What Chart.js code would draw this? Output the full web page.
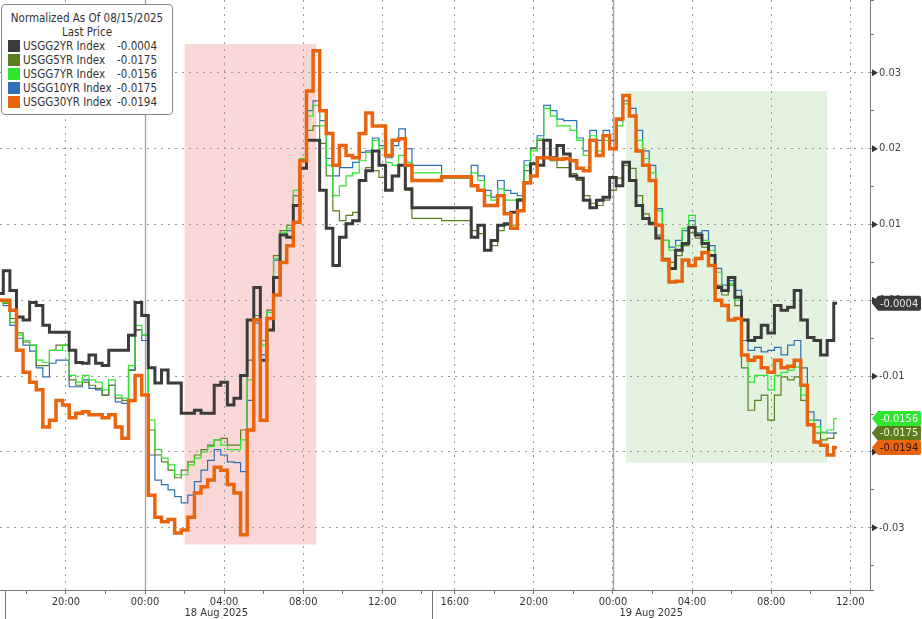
<!DOCTYPE html>
<html>
<head>
<meta charset="utf-8">
<script src="https://cdn.jsdelivr.net/npm/chart.js@4.4.1/dist/chart.umd.min.js"></script>
<style>
html, body { margin: 0; padding: 0; background: #fff; }
#wrap { position: relative; width: 922px; height: 619px; }
#legendBox {
  position: absolute; left: 1px; top: 4px; width: 170px;
  padding: 6px 0 5px 0; background: #fff; border: 1px solid #8a8a8a; border-radius: 4px;
  font-family: "DejaVu Sans Condensed", "DejaVu Sans", sans-serif; font-stretch: condensed;
  font-size: 11.5px; color: #333; line-height: 14px;
}
#legendBox .ttl { text-align: center; }
#legendBox .row { position: relative; height: 14px; }
#legendBox .sw { position: absolute; left: 6px; top: 1px; width: 12px; height: 12px; }
#legendBox .nm { position: absolute; left: 21px; top: 0; }
#legendBox .vl { position: absolute; right: 15px; top: 0; }
</style>
</head>
<body>
<div id="wrap">
  <canvas id="yieldChart" width="922" height="619"></canvas>
  <div id="legendBox"></div>
</div>
<script>
// categories: 20 minute steps, two sessions with the session break in between
function sessionLabels(startH, startM, count) {
    let out = []
    let m = startH * 60 + startM
    for (let i = 0; i < count; i++) {
        let t = (m + i * 20) % 1440
        out.push(String(Math.floor(t / 60)).padStart(2, '0') + ':' + String(t % 60).padStart(2, '0'))
    }
    return out
}
const timeLabels = sessionLabels(16, 40, 66).concat(sessionLabels(15, 0, 67))
const sessionDates = ['18 Aug 2025', '19 Aug 2025']
const xTickLabels = ['00:00', '04:00', '08:00', '12:00', '16:00', '20:00']
const xMinorTicks = ['02:00', '06:00', '10:00', '14:00', '18:00', '22:00']

const seriesNames = ['USGG2YR Index', 'USGG5YR Index', 'USGG7YR Index', 'USGG10YR Index', 'USGG30YR Index']
const seriesColors = ['#3b3b3b', '#5a7d1e', '#2ee62e', '#2f6fb3', '#e8650e']
const lastValues = [-0.0004, -0.0175, -0.0156, -0.0175, -0.0194]

const usgg2yr = [
 0.0009, 0.0039, 0.0013, -0.0022, -0.0026, -0.0003, -0.0007, -0.0033, -0.0042, -0.0042,
 -0.0042, -0.0066, -0.0082, -0.0083, -0.0072, -0.0083, -0.0086, -0.0066, -0.0066, -0.0066,
 -0.0046, -0.0003, -0.0020, -0.0089, -0.0109, -0.0092, -0.0109, -0.0109, -0.0149, -0.0149,
 -0.0145, -0.0149, -0.0149, -0.0112, -0.0108, -0.0138, -0.0129, -0.0099, -0.0026, 0.0017,
 -0.0079, -0.0039, 0.0030, 0.0086, 0.0083, 0.0125, 0.0174, 0.0211, 0.0211, 0.0145,
 0.0095, 0.0046, 0.0083, 0.0101, 0.0105, 0.0158, 0.0171, 0.0197, 0.0178, 0.0145,
 0.0164, 0.0178, 0.0147, 0.0122,
 null, null, null, null, null, null, null,
 0.0122, 0.0083, 0.0099, 0.0066, 0.0079, 0.0099, 0.0101, 0.0116, 0.0132, 0.0155,
 0.0180, 0.0178, 0.0211, 0.0188, 0.0204, 0.0193, 0.0164, 0.0161, 0.0132, 0.0122,
 0.0132, 0.0136, 0.0162, 0.0151, 0.0182, 0.0158, 0.0125, 0.0108, 0.0101, 0.0082,
 0.0054, 0.0042, 0.0066, 0.0075, 0.0096, 0.0086, 0.0075, 0.0059, 0.0017, 0.0013,
 0.0030, 0.0004, -0.0026, -0.0053, -0.0049, -0.0033, -0.0043, -0.0007, -0.0013, -0.0009,
 0.0013, -0.0026, -0.0049, -0.0053, -0.0072, -0.0053, -0.0004,
 null, null, null, null, null
]
const usgg5yr = [
 0, -0.0004, -0.0024, -0.0043, -0.0055, -0.0059, -0.0086, -0.0086, -0.0066, -0.0059,
 -0.0059, -0.0105, -0.0112, -0.0108, -0.0112, -0.0116, -0.0125, -0.0112, -0.0129, -0.0132,
 -0.0092, -0.0039, -0.0046, -0.0171, -0.0204, -0.0213, -0.0224, -0.0234, -0.0224, -0.0213,
 -0.0204, -0.0197, -0.0191, -0.0184, -0.0182, -0.0191, -0.0191, -0.0171, -0.0079, -0.0020,
 -0.0053, -0.0013, 0.0059, 0.0092, 0.0099, 0.0138, 0.0184, 0.0224, 0.0230, 0.0207,
 0.0164, 0.0118, 0.0105, 0.0112, 0.0116, 0.0158, 0.0175, 0.0171, 0.0162, 0.0145,
 0.0164, 0.0178, 0.0145, 0.0108,
 null, null, null, null, null, null, null,
 0.0105, 0.0092, 0.0088, 0.0066, 0.0072, 0.0092, 0.0099, 0.0099, 0.0118, 0.0171,
 0.0200, 0.0211, 0.0211, 0.0184, 0.0175, 0.0175, 0.0167, 0.0158, 0.0138, 0.0128,
 0.0125, 0.0132, 0.0145, 0.0161, 0.0178, 0.0174, 0.0138, 0.0114, 0.0103, 0.0086,
 0.0055, 0.0050, 0.0059, 0.0072, 0.0089, 0.0082, 0.0070, 0.0059, 0.0020, 0.0007,
 0.0020, -0.0007, -0.0089, -0.0145, -0.0132, -0.0125, -0.0158, -0.0125, -0.0101, -0.0105,
 -0.0101, -0.0132, -0.0164, -0.0175, -0.0184, -0.0182, -0.0175,
 null, null, null, null, null
]
const usgg7yr = [
 0, -0.0003, -0.0029, -0.0046, -0.0053, -0.0059, -0.0079, -0.0082, -0.0066, -0.0066,
 -0.0059, -0.0099, -0.0108, -0.0099, -0.0105, -0.0108, -0.0118, -0.0105, -0.0125, -0.0129,
 -0.0086, -0.0033, -0.0046, -0.0158, -0.0197, -0.0208, -0.0217, -0.0230, -0.0230, -0.0217,
 -0.0208, -0.0200, -0.0193, -0.0184, -0.0191, -0.0197, -0.0197, -0.0184, -0.0105, -0.0024,
 -0.0059, -0.0016, 0.0055, 0.0089, 0.0095, 0.0145, 0.0187, 0.0243, 0.0257, 0.0230,
 0.0178, 0.0138, 0.0151, 0.0164, 0.0168, 0.0184, 0.0195, 0.0211, 0.0200, 0.0182,
 0.0178, 0.0191, 0.0182, 0.0168,
 null, null, null, null, null, null, null,
 0.0161, 0.0168, 0.0158, 0.0138, 0.0132, 0.0147, 0.0132, 0.0132, 0.0134, 0.0178,
 0.0197, 0.0213, 0.0253, 0.0243, 0.0230, 0.0230, 0.0224, 0.0211, 0.0191, 0.0217,
 0.0197, 0.0211, 0.0200, 0.0230, 0.0259, 0.0243, 0.0211, 0.0187, 0.0168, 0.0118,
 0.0079, 0.0066, 0.0072, 0.0095, 0.0112, 0.0086, 0.0079, 0.0066, 0.0037, 0.0013,
 0.0022, 0, -0.0072, -0.0108, -0.0099, -0.0099, -0.0118, -0.0099, -0.0095, -0.0092,
 -0.0088, -0.0125, -0.0158, -0.0167, -0.0175, -0.0171, -0.0156,
 null, null, null, null, null
]
const usgg10yr = [
 0, -0.0007, -0.0033, -0.0050, -0.0059, -0.0067, -0.0089, -0.0101, -0.0083, -0.0079,
 -0.0079, -0.0114, -0.0114, -0.0105, -0.0116, -0.0118, -0.0125, -0.0112, -0.0134, -0.0136,
 -0.0092, -0.0039, -0.0053, -0.0204, -0.0237, -0.0243, -0.0250, -0.0259, -0.0267, -0.0257,
 -0.0239, -0.0224, -0.0211, -0.0197, -0.0204, -0.0213, -0.0214, -0.0226, -0.0132, -0.0030,
 -0.0072, -0.0024, 0.0053, 0.0086, 0.0092, 0.0138, 0.0184, 0.0250, 0.0263, 0.0237,
 0.0187, 0.0164, 0.0175, 0.0175, 0.0182, 0.0195, 0.0197, 0.0214, 0.0204, 0.0188,
 0.0204, 0.0226, 0.0200, 0.0178,
 null, null, null, null, null, null, null,
 0.0161, 0.0178, 0.0164, 0.0145, 0.0136, 0.0158, 0.0145, 0.0141, 0.0138, 0.0184,
 0.0201, 0.0217, 0.0257, 0.0250, 0.0239, 0.0237, 0.0237, 0.0214, 0.0197, 0.0224,
 0.0211, 0.0224, 0.0211, 0.0237, 0.0263, 0.0253, 0.0224, 0.0197, 0.0178, 0.0121,
 0.0079, 0.0070, 0.0079, 0.0092, 0.0105, 0.0089, 0.0092, 0.0072, 0.0042, 0.0020,
 0.0026, 0.0013, -0.0053, -0.0066, -0.0062, -0.0068, -0.0066, -0.0062, -0.0072, -0.0059,
 -0.0053, -0.0089, -0.0147, -0.0158, -0.0174, -0.0175, -0.0175,
 null, null, null, null, null
]
const usgg30yr = [
 0, 0, -0.0013, -0.0066, -0.0095, -0.0108, -0.0118, -0.0167, -0.0158, -0.0132,
 -0.0138, -0.0155, -0.0149, -0.0147, -0.0151, -0.0151, -0.0155, -0.0151, -0.0167, -0.0182,
 -0.0132, -0.0099, -0.0125, -0.0257, -0.0286, -0.0292, -0.0289, -0.0307, -0.0303, -0.0286,
 -0.0254, -0.0246, -0.0237, -0.0220, -0.0224, -0.0243, -0.0254, -0.0309, -0.0171, -0.0026,
 -0.0158, -0.0024, 0.0007, 0.0050, 0.0072, 0.0103, 0.0184, 0.0276, 0.0329, 0.0250,
 0.0220, 0.0178, 0.0204, 0.0191, 0.0188, 0.0220, 0.0247, 0.0230, 0.0230, 0.0191,
 0.0211, 0.0213, 0.0178, 0.0158,
 null, null, null, null, null, null, null,
 0.0163, 0.0151, 0.0145, 0.0125, 0.0125, 0.0138, 0.0114, 0.0095, 0.0118, 0.0155,
 0.0164, 0.0188, 0.0188, 0.0187, 0.0186, 0.0187, 0.0184, 0.0174, 0.0171, 0.0211,
 0.0191, 0.0217, 0.0200, 0.0239, 0.0270, 0.0243, 0.0197, 0.0178, 0.0158, 0.0099,
 0.0053, 0.0024, 0.0025, 0.0053, 0.0046, 0.0055, 0.0063, 0.0046, 0, -0.0007,
 -0.0026, -0.0024, -0.0072, -0.0079, -0.0075, -0.0089, -0.0095, -0.0079, -0.0089, -0.0087,
 -0.0079, -0.0112, -0.0164, -0.0187, -0.0191, -0.0204, -0.0194,
 null, null, null, null, null
]

// shaded windows, in category index / value units
const shadeBoxes = [
    {from: 28, to: 48, top: 0.0338, bottom: -0.0322, color: 'rgba(244,160,160,0.42)'},
    {from: 95, to: 125.5, top: 0.0276, bottom: -0.0214, color: 'rgba(190,225,180,0.42)'},
]

const FONT = '"DejaVu Sans Condensed", "DejaVu Sans", sans-serif'
const isMajor = v => Math.abs(v * 100 - Math.round(v * 100)) < 1e-6

// legend box
let lb = document.getElementById('legendBox')
let html = '<div class="ttl">Normalized As Of 08/15/2025</div><div class="ttl">Last Price</div>'
seriesNames.forEach((n, i) => {
    html += '<div class="row"><span class="sw" style="background:' + seriesColors[i] + '"></span>' +
        '<span class="nm">' + n + '</span><span class="vl">' + lastValues[i].toFixed(4) + '</span></div>'
})
lb.innerHTML = html

const extras = {
    id: 'extras',
    beforeDraw(chart) {
        const {ctx, scales: {x, y}} = chart
        ctx.save()
        shadeBoxes.forEach(b => {
            let x0 = x.getPixelForValue(b.from), x1 = x.getPixelForValue(b.to)
            let y0 = y.getPixelForValue(b.top), y1 = y.getPixelForValue(b.bottom)
            ctx.fillStyle = b.color
            ctx.fillRect(x0, y0, x1 - x0, y1 - y0)
        })
        ctx.restore()
    },
    beforeDatasetsDraw(chart) {
        const {ctx, chartArea: a, scales: {x}} = chart
        ctx.save()
        ctx.strokeStyle = '#a0a0a0'
        ctx.lineWidth = 1.3
        timeLabels.forEach((t, i) => {
            if (t == '00:00') {
                let px = Math.round(x.getPixelForValue(i)) + 0.5
                ctx.beginPath(); ctx.moveTo(px, a.top); ctx.lineTo(px, a.bottom); ctx.stroke()
            }
        })
        ctx.restore()
    },
    afterDraw(chart) {
        const {ctx, chartArea: a, scales: {x, y}} = chart
        ctx.save()
        // session separators and dates
        let sep = Math.round((x.getPixelForValue(65) + x.getPixelForValue(66)) / 2) + 0.5
        ctx.strokeStyle = '#777'
        ctx.lineWidth = 1
        ;[a.left + 5.5, sep].forEach(px => {
            ctx.beginPath(); ctx.moveTo(px, a.bottom); ctx.lineTo(px, chart.height); ctx.stroke()
        })
        ctx.fillStyle = '#333'
        ctx.font = '11px ' + FONT
        ctx.textAlign = 'center'
        ctx.textBaseline = 'middle'
        ctx.fillText(sessionDates[0], (a.left + sep) / 2, a.bottom + 23)
        ctx.fillText(sessionDates[1], (sep + a.right) / 2, a.bottom + 23)
        // triangles at the major y ticks
        ctx.fillStyle = '#333'
        y.ticks.forEach(t => {
            if (!isMajor(t.value)) return
            let py = y.getPixelForValue(t.value)
            ctx.beginPath()
            ctx.moveTo(a.right + 2, py - 3.5); ctx.lineTo(a.right + 8, py); ctx.lineTo(a.right + 2, py + 3.5)
            ctx.fill()
        })
        // last value tags
        const tagOrder = [3, 1, 2, 4, 0]
        const tagText = ['#e6e6e6', '#eef5e0', '#ffffff', '#eaf2ff', '#3a1200']
        tagOrder.forEach(i => {
            let py = y.getPixelForValue(lastValues[i])
            let x0 = a.right + 2, x1 = chart.width - 1, h = 7.5
            ctx.fillStyle = seriesColors[i]
            ctx.beginPath()
            ctx.moveTo(x0, py)
            ctx.lineTo(x0 + 6, py - h)
            ctx.lineTo(x1 - 2, py - h)
            ctx.quadraticCurveTo(x1, py - h, x1, py - h + 2)
            ctx.lineTo(x1, py + h - 2)
            ctx.quadraticCurveTo(x1, py + h, x1 - 2, py + h)
            ctx.lineTo(x0 + 6, py + h)
            ctx.closePath()
            ctx.fill()
            ctx.fillStyle = tagText[i]
            ctx.textAlign = 'left'
            ctx.font = '11px ' + FONT
            ctx.fillText(lastValues[i].toFixed(4), x0 + 8, py + 0.5)
        })
        ctx.restore()
    }
}

function lineSet(label, data, color, width, order) {
    return {
        label: label, data: data, borderColor: color, backgroundColor: color,
        borderWidth: width, pointRadius: 0, fill: false, tension: 0, spanGaps: true,
        stepped: 'middle', borderJoinStyle: 'miter', order: order,
    }
}

new Chart('yieldChart', {
    type: 'line',
    data: {
        labels: timeLabels,
        datasets: [
            lineSet(seriesNames[0], usgg2yr, seriesColors[0], 3, 1),
            lineSet(seriesNames[1], usgg5yr, seriesColors[1], 1.2, 3),
            lineSet(seriesNames[2], usgg7yr, seriesColors[2], 1.2, 2),
            lineSet(seriesNames[3], usgg10yr, seriesColors[3], 1.2, 4),
            lineSet(seriesNames[4], usgg30yr, seriesColors[4], 3.5, 0),
        ]
    },
    options: {
        responsive: false,
        animation: false,
        layout: { padding: 0 },
        plugins: {
            legend: { display: false },
            tooltip: { enabled: false },
        },
        scales: {
            x: {
                offset: false,
                afterFit(s) { s.height = 29; s.paddingLeft = 0; s.paddingRight = 0 },
                border: { color: '#777', width: 1, dash: [2, 5] },
                grid: {
                    color: ctx => xTickLabels.includes(timeLabels[ctx.index]) ? '#9a9a9a' : 'rgba(0,0,0,0)',
                    tickColor: ctx => (xTickLabels.includes(timeLabels[ctx.index]) || xMinorTicks.includes(timeLabels[ctx.index])) ? '#777' : 'rgba(0,0,0,0)',
                    tickLength: 4,
                    lineWidth: 1,
                },
                ticks: {
                    autoSkip: false, maxRotation: 0, padding: 2,
                    color: '#333', font: { size: 11, family: FONT },
                    callback: (v, i) => xTickLabels.includes(timeLabels[i]) ? timeLabels[i] : '',
                },
            },
            y: {
                position: 'right',
                min: -0.0382,
                max: 0.0396,
                afterFit(s) { s.width = 52; s.paddingTop = 0; s.paddingBottom = 0 },
                border: { color: '#777', width: 1, dash: [2, 5] },
                grid: {
                    color: ctx => (ctx.tick && isMajor(ctx.tick.value)) ? '#9a9a9a' : 'rgba(0,0,0,0)',
                    tickColor: '#777',
                    tickLength: 4,
                    lineWidth: 1,
                },
                ticks: {
                    stepSize: 0.005, padding: 5,
                    color: '#444', font: { size: 11, family: FONT },
                    callback: v => isMajor(v) ? (Math.round(v * 100) / 100).toFixed(2).replace(/0$/, '').replace(/\.0$/, '.00') : '',
                },
            },
        },
    },
    plugins: [extras],
})
</script>
</body>
</html>
